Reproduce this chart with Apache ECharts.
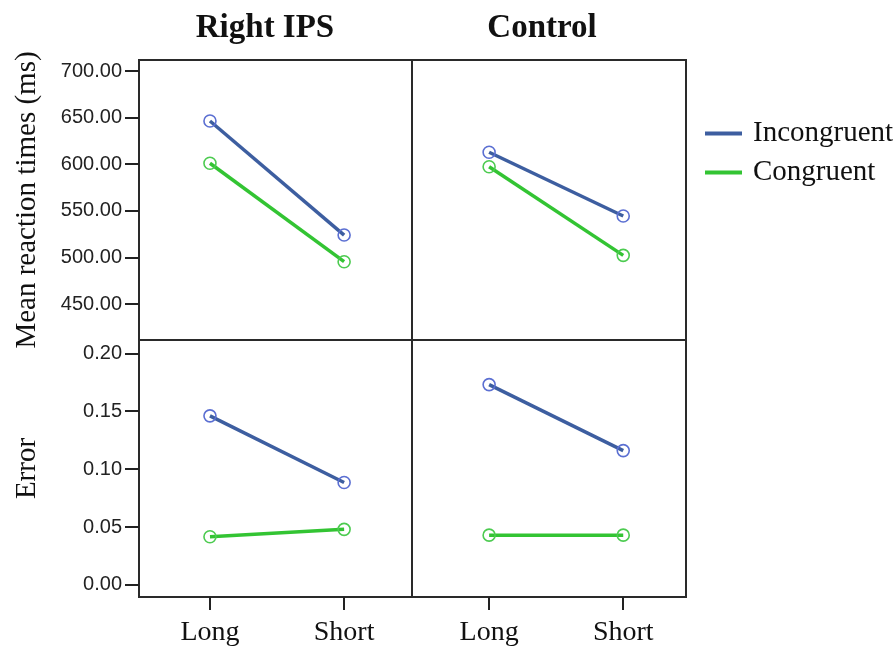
<!DOCTYPE html>
<html>
<head>
<meta charset="utf-8">
<script src="https://cdn.jsdelivr.net/npm/echarts@6/dist/echarts.min.js"></script>
<style>
html,body{margin:0;padding:0;background:#fff;}
#chart{width:895px;height:647px;}
</style>
</head>
<body>
<div id="chart"></div>
<script>
const categories = ['Long', 'Short'];
const panelTitles = ['Right IPS', 'Control'];
const seriesNames = ['Incongruent', 'Congruent'];
const rtTicks = [450, 500, 550, 600, 650, 700];
const errTicks = [0, 0.05, 0.10, 0.15, 0.20];
const rtIpsIncong = [646.4, 524.0];
const rtIpsCong = [601.0, 495.4];
const rtCtrlIncong = [612.8, 544.4];
const rtCtrlCong = [597.3, 502.2];
const errIpsIncong = [0.146, 0.0885];
const errIpsCong = [0.0416, 0.048];
const errCtrlIncong = [0.173, 0.116];
const errCtrlCong = [0.043, 0.043];

const SERIF = '"Liberation Serif", "Times New Roman", serif';
const SANS = '"Liberation Sans", Arial, sans-serif';
const BLUE = '#3d5ea0';
const GREEN = '#33c433';
const BLUE_M = '#5b6fd2';
const GREEN_M = '#4ccb50';
const INK = '#222';

const chart = echarts.init(document.getElementById('chart'), null, {renderer: 'canvas'});

const grids = [
  {left: 139, top: 60, width: 273, height: 280},
  {left: 412, top: 60, width: 274, height: 280},
  {left: 139, top: 340, width: 273, height: 257},
  {left: 412, top: 340, width: 274, height: 257}
].map(g => Object.assign({show: true, borderColor: '#2a2a2a', borderWidth: 2, backgroundColor: 'transparent', containLabel: false}, g));

const xRanges = [[-0.529, 1.506], [-0.575, 1.468], [-0.529, 1.506], [-0.575, 1.468]];
const xAxes = xRanges.map((r, i) => ({
  type: 'value', gridIndex: i, min: r[0], max: r[1], position: 'bottom',
  axisLine: {show: false, onZero: false}, splitLine: {show: false},
  axisTick: {show: i >= 2, length: 13, lineStyle: {color: INK, width: 2}, customValues: [0, 1]},
  axisLabel: {show: i >= 2, customValues: [0, 1], margin: 22,
    formatter: v => categories[Math.round(v)],
    fontFamily: SERIF, fontSize: 28, color: '#111'}
}));

function yAxis(i, min, max, ticks, digits, name, gap) {
  const left = (i % 2 === 0);
  return {
    type: 'value', gridIndex: i, min: min, max: max, position: 'left',
    axisLine: {show: false, onZero: false}, splitLine: {show: false},
    axisTick: {show: left, length: 14, lineStyle: {color: INK, width: 2}, customValues: ticks},
    axisLabel: {show: left, customValues: ticks, margin: 17,
      formatter: v => v.toFixed(digits), fontFamily: SANS, fontSize: 20, color: '#222'},
    name: left ? name : '', nameLocation: 'middle', nameGap: gap, nameRotate: 90,
    nameTextStyle: {fontFamily: SERIF, fontSize: 29, color: '#111'}
  };
}
const yAxes = [
  yAxis(0, 411.4, 711.8, rtTicks, 2, 'Mean reaction times (ms)', 97),
  yAxis(1, 411.4, 711.8, rtTicks, 2, '', 0),
  yAxis(2, -0.0104, 0.2115, errTicks, 2, 'Error', 97),
  yAxis(3, -0.0104, 0.2115, errTicks, 2, '', 0)
];

function mk(name, vals, idx, isBlue) {
  return {
    name: name, type: 'line', xAxisIndex: idx, yAxisIndex: idx,
    data: categories.map((c, k) => [k, vals[k]]),
    symbol: 'circle', symbolSize: 12, showSymbol: true,
    lineStyle: {color: isBlue ? BLUE : GREEN, width: 3.5},
    itemStyle: {color: 'rgba(255,255,255,0)', borderColor: isBlue ? BLUE_M : GREEN_M, borderWidth: 1.6},
    z: isBlue ? 3 : 2,
    animation: false
  };
}

const series = [
  mk(seriesNames[0], rtIpsIncong, 0, true),
  mk(seriesNames[1], rtIpsCong, 0, false),
  mk(seriesNames[0], rtCtrlIncong, 1, true),
  mk(seriesNames[1], rtCtrlCong, 1, false),
  mk(seriesNames[0], errIpsIncong, 2, true),
  mk(seriesNames[1], errIpsCong, 2, false),
  mk(seriesNames[0], errCtrlIncong, 3, true),
  mk(seriesNames[1], errCtrlCong, 3, false)
];

chart.setOption({
  animation: false,
  backgroundColor: '#fff',
  title: [
    {text: panelTitles[0], left: 265, top: 12, textAlign: 'center', padding: 0,
      textStyle: {fontFamily: SERIF, fontSize: 33, fontWeight: 'bold', color: '#111'}},
    {text: panelTitles[1], left: 542, top: 12, textAlign: 'center', padding: 0,
      textStyle: {fontFamily: SERIF, fontSize: 33, fontWeight: 'bold', color: '#111'}}
  ],
  legend: {
    orient: 'vertical', left: 705, top: 119, padding: 0,
    itemWidth: 37, itemHeight: 4, itemGap: 10,
    icon: 'rect',
    data: [
      {name: seriesNames[0], itemStyle: {color: BLUE, borderWidth: 0}},
      {name: seriesNames[1], itemStyle: {color: GREEN, borderWidth: 0}}
    ],
    textStyle: {fontFamily: SERIF, fontSize: 29, color: '#111', padding: [0, 0, 0, 6]},
    selectedMode: false
  },
  grid: grids,
  xAxis: xAxes,
  yAxis: yAxes,
  series: series
});
</script>
</body>
</html>
